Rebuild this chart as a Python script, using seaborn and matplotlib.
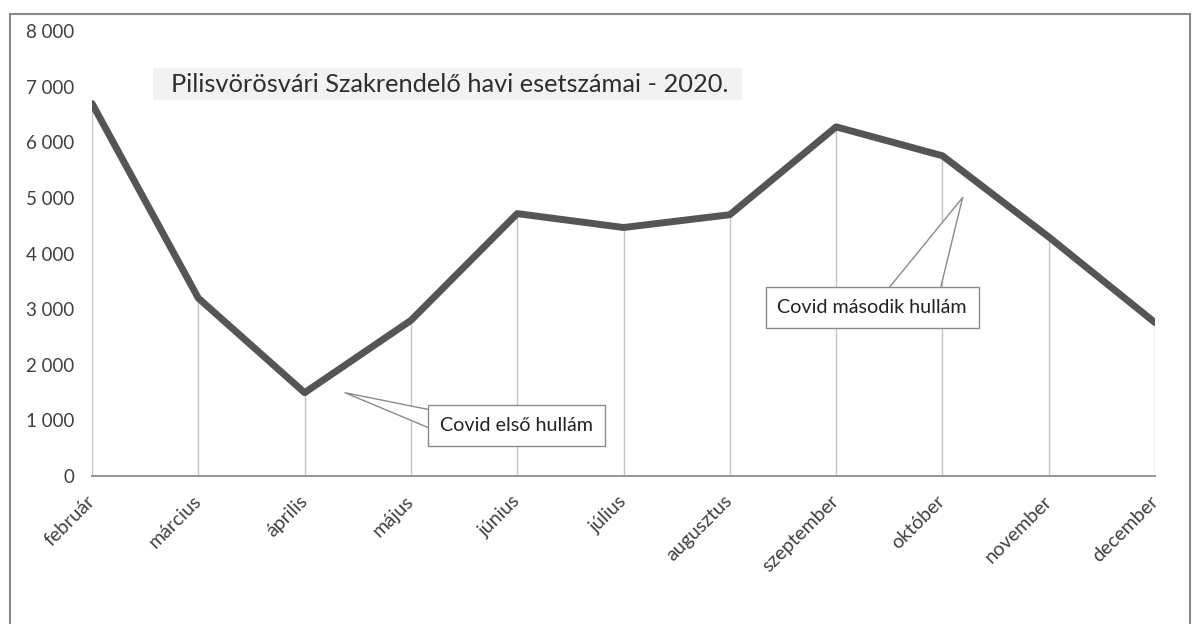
import matplotlib
matplotlib.use("Agg")
import matplotlib.pyplot as plt
from matplotlib.patches import Rectangle
import seaborn as sns
import pandas as pd

months = ["február", "március", "április", "május", "június", "július",
          "augusztus", "szeptember", "október", "november", "december"]
cases = [6700, 3200, 1500, 2800, 4720, 4470, 4700, 6280, 5760, 4300, 2760]
y_ticks = [0, 1000, 2000, 3000, 4000, 5000, 6000, 7000, 8000]
y_tick_labels = ["0", "1 000", "2 000", "3 000", "4 000", "5 000", "6 000", "7 000", "8 000"]
title = "Pilisvörösvári Szakrendelő havi esetszámai - 2020."
note1 = "Covid első hullám"
note2 = "Covid második hullám"

sns.set_theme(style="white")
plt.rcParams["font.family"] = ["Lato", "DejaVu Sans"]

df = pd.DataFrame({"pos": list(range(len(months))), "cases": cases})

fig = plt.figure(figsize=(11.92, 6.24), dpi=100, facecolor="white")
ax = fig.add_axes([0.0772, 0.237, 0.8918, 0.713])
ax.patch.set_visible(False)

# title box (behind the axes content)
fig.add_artist(Rectangle((153 / 1192, 1 - 100 / 624), 589 / 1192, 32 / 624,
                         transform=fig.transFigure, fc="#f2f2f2", ec="none",
                         zorder=-1))
fig.text(171 / 1192, 1 - 85 / 624, title, fontsize=18.3, color="#2e2e2e",
         va="center", ha="left")

ax.vlines(df["pos"], 0, df["cases"], color="#c4c4c4", lw=1.0, zorder=1)
sns.lineplot(data=df, x="pos", y="cases", ax=ax, color="#555555", lw=5,
             solid_joinstyle="round", zorder=3)

ax.set_xlim(0, len(months) - 1)
ax.set_ylim(0, 8000)
ax.set_xticks(df["pos"])
ax.set_xticklabels(months, rotation=45, ha="right", va="center",
                   rotation_mode="anchor", fontsize=14, color="#404040")
ax.set_yticks(y_ticks)
ax.set_yticklabels(y_tick_labels, fontsize=13.5, color="#404040")
ax.tick_params(axis="x", length=0, pad=16)
ax.tick_params(axis="y", length=0, pad=13)
ax.set_xlabel("")
ax.set_ylabel("")
for s in ["top", "right", "left"]:
    ax.spines[s].set_visible(False)
ax.spines["bottom"].set_color("#8c8c8c")
ax.spines["bottom"].set_linewidth(1.3)

ax.annotate(note1, xy=(2.38, 1500), xytext=(3.99, 910), fontsize=14.2,
            color="#222222", ha="center", va="center",
            bbox=dict(boxstyle="square,pad=0.6", fc="white", ec="#8a8a8a"),
            arrowprops=dict(arrowstyle="wedge,tail_width=1.0", fc="white",
                            ec="#8a8a8a", lw=1, shrinkA=0, shrinkB=0,
                            patchA=None, relpos=(0.0, 0.72)),
            zorder=5)
ax.annotate(note2, xy=(8.19, 5010), xytext=(7.34, 3030), fontsize=14.2,
            color="#222222", ha="center", va="center",
            bbox=dict(boxstyle="square,pad=0.6", fc="white", ec="#8a8a8a"),
            arrowprops=dict(arrowstyle="wedge,tail_width=2.6", fc="white",
                            ec="#8a8a8a", lw=1, shrinkA=0, shrinkB=0,
                            patchA=None, relpos=(0.71, 1.0)),
            zorder=5)

fig.add_artist(Rectangle((0.008, -0.01), 0.99, 0.988, transform=fig.transFigure,
                         fill=False, ec="#8a8a8a", lw=1.5))

fig.savefig("out.png", dpi=100, facecolor="white")
